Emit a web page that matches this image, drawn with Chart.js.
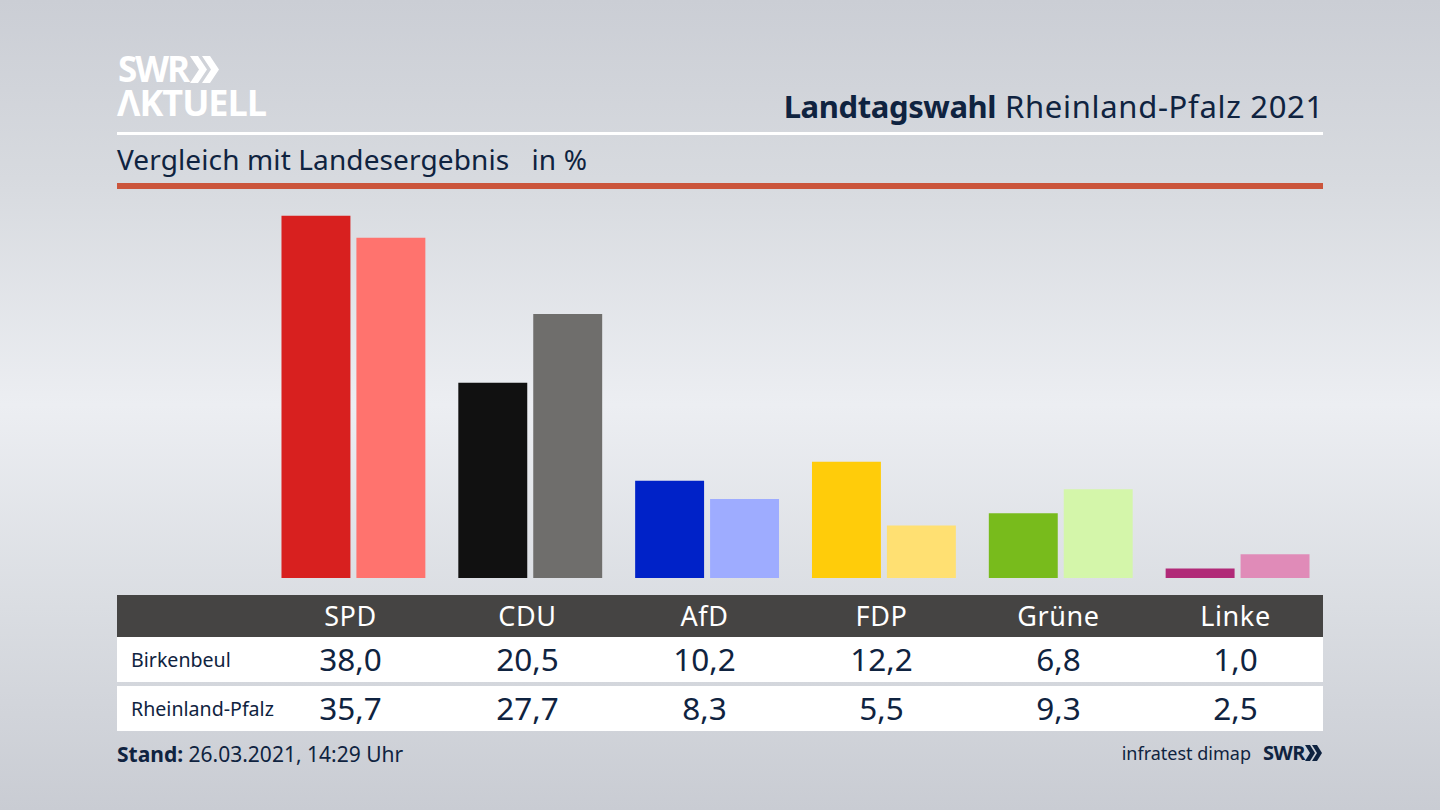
<!DOCTYPE html>
<html>
<head>
<meta charset="utf-8">
<title>Landtagswahl Rheinland-Pfalz 2021</title>
<script src="https://cdn.jsdelivr.net/npm/chart.js@4"></script>
<style>
html, body { margin: 0; padding: 0; }
body { width: 1440px; height: 810px; position: relative; overflow: hidden;
  background: linear-gradient(180deg, #cbced5 0%, #d7dadf 22%, #eceef2 50%, #dadde2 75%, #c9ccd3 100%);
  font-family: "Noto Sans", sans-serif; color: #0f2340; }
.abs { position: absolute; white-space: nowrap; }
.cell { position: absolute; width: 177px; text-align: center; white-space: nowrap; }
.rowlabel { position: absolute; left: 131px; font-size: 19.6px; white-space: nowrap; }
</style>
</head>
<body>
<!-- logo -->
<div class="abs" id="logo1" style="left:118px;top:49px;font:700 35px/40px 'Open Sans';color:#fff;letter-spacing:-2px">SWR</div>
<svg class="abs" style="left:190px;top:56px" width="30" height="28" fill="#fff">
  <polygon points="0,0 8,0 17,13.5 8,27 0,27 9,13.5"/>
  <polygon points="12,0 20,0 29,13.5 20,27 12,27 21,13.5"/>
</svg>
<div class="abs" style="left:117px;top:83px;font:700 36px/40px 'Open Sans';color:#fff;letter-spacing:-1px">&Lambda;KTUELL</div>

<div class="abs" id="title" style="right:116px;top:85px;font-size:31px;line-height:42px;letter-spacing:0.7px"><b style="letter-spacing:-0.4px">Landtagswahl</b> Rheinland-Pfalz 2021</div>
<div class="abs" style="left:117px;top:132px;width:1206px;height:3px;background:#fff"></div>
<div class="abs" id="sub" style="left:117px;top:139px;font-size:28px;line-height:40px;letter-spacing:0.12px">Vergleich mit Landesergebnis&nbsp;&nbsp; in %</div>
<div class="abs" style="left:117px;top:183px;width:1206px;height:6px;background:#cb553c"></div>

<div class="abs" style="left:265px;top:200.5px;width:1061px;height:377px"><canvas id="chart"></canvas></div>

<!-- table -->
<div class="abs" style="left:117px;top:595px;width:1206px;height:42px;background:#454443"></div>
<div class="abs" style="left:117px;top:637px;width:1206px;height:45px;background:#fff"></div>
<div class="abs" style="left:117px;top:686px;width:1206px;height:45px;background:#fff"></div>
<div id="table"></div>

<div class="abs" id="stand" style="left:117px;top:740px;font-size:21px;line-height:28px"><b>Stand:</b> 26.03.2021, 14:29 Uhr</div>
<div class="abs" id="source" style="right:189px;top:739px;font-size:18px;line-height:28px">infratest dimap</div>
<div class="abs" style="left:1263px;top:739px;font:700 20px/28px 'Open Sans';letter-spacing:-0.5px">SWR</div>
<svg class="abs" style="left:1305px;top:745px" width="18" height="17" fill="#0f2340">
  <polygon points="0,0 5,0 10,8 5,16 0,16 5,8"/>
  <polygon points="7,0 12,0 17,8 12,16 7,16 12,8"/>
</svg>

<script>
var parties = ['SPD', 'CDU', 'AfD', 'FDP', 'Grüne', 'Linke'];
var birkenbeul = [38.0, 20.5, 10.2, 12.2, 6.8, 1.0];
var rheinlandPfalz = [35.7, 27.7, 8.3, 5.5, 9.3, 2.5];
var birkenbeulColors = ['#d8201f', '#111111', '#0022c8', '#ffcc0a', '#78bb1c', '#b12a78'];
var rlpColors = ['#ff736e', '#6f6e6c', '#9eacff', '#ffe072', '#d4f6aa', '#e08bb8'];

Chart.defaults.animation = false;

var ctx = document.getElementById('chart');
var chart = new Chart(ctx, {
  type: 'bar',
  data: {
    labels: parties,
    datasets: [
      { label: 'Birkenbeul', data: birkenbeul, backgroundColor: birkenbeulColors },
      { label: 'Rheinland-Pfalz', data: rheinlandPfalz, backgroundColor: rlpColors }
    ]
  },
  options: {
    responsive: true,
    maintainAspectRatio: false,
    categoryPercentage: 150 / 177,
    barPercentage: 69 / 75,
    layout: { padding: 0 },
    plugins: { legend: { display: false }, tooltip: { enabled: false } },
    scales: {
      x: { display: false },
      y: { display: false, min: 0, max: 39.56 }
    }
  }
});

// table under the bars, one column per party
function fmt(v) { return v.toFixed(1).replace('.', ','); }
var table = document.getElementById('table');
function addCell(text, i, top, css) {
  var d = document.createElement('div');
  d.className = 'cell';
  d.style.cssText = 'left:' + (262 + i * 177) + 'px;top:' + top + 'px;' + css;
  d.textContent = text;
  table.appendChild(d);
}
parties.forEach(function (p, i) {
  addCell(p, i, 596, 'font-size:27px;line-height:40px;color:#fff;letter-spacing:0.6px');
  addCell(fmt(birkenbeul[i]), i, 638, 'font-size:31.5px;line-height:42px');
  addCell(fmt(rheinlandPfalz[i]), i, 687, 'font-size:31.5px;line-height:42px');
});
[['Birkenbeul', 646], ['Rheinland-Pfalz', 695]].forEach(function (r) {
  var d = document.createElement('div');
  d.className = 'rowlabel';
  d.style.top = r[1] + 'px';
  d.style.lineHeight = '28px';
  d.textContent = r[0];
  table.appendChild(d);
});
</script>
</body>
</html>
